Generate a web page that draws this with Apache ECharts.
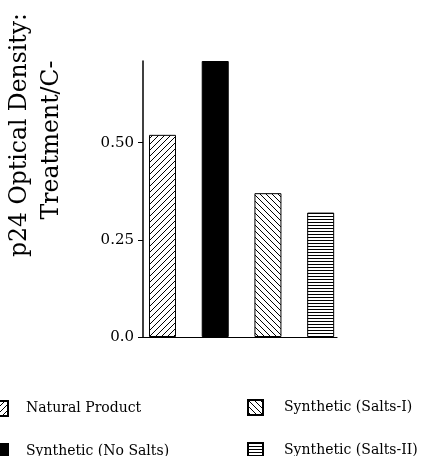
<!DOCTYPE html>
<html>
<head>
	<meta charset="UTF-8">
	<title>p24 Optical Density</title>
	<script src="https://cdn.jsdelivr.net/npm/echarts@6/dist/echarts.min.js"></script>
	<style>
		html, body { margin: 0; padding: 0; background: #fff; }
	</style>
</head>
<body>
<div id="main" style="width: 440px;height:456px;"></div>
<script type="text/javascript">
	// 数据
	var treatments = ['Natural Product', 'Synthetic (No Salts)', 'Synthetic (Salts-I)', 'Synthetic (Salts-II)'];
	var densityValues = [0.52, 0.71, 0.37, 0.32];
	var yTicks = [0, 0.25, 0.5];
	var yTitleLines = ['p24 Optical Density:', 'Treatment/C-'];

	// hatch fill for the bars
	function makePattern(kind) {
		var c = document.createElement('canvas');
		var s = kind === 'hline' ? 3 : 6;
		c.width = s;
		c.height = s;
		var ctx = c.getContext('2d');
		ctx.fillStyle = '#fff';
		ctx.fillRect(0, 0, s, s);
		ctx.strokeStyle = '#000';
		ctx.lineWidth = 1;
		ctx.beginPath();
		if (kind === 'slash') {
			ctx.moveTo(-1, s + 1); ctx.lineTo(s + 1, -1);
			ctx.moveTo(-1, 1); ctx.lineTo(1, -1);
			ctx.moveTo(s - 1, s + 1); ctx.lineTo(s + 1, s - 1);
		} else if (kind === 'back') {
			ctx.moveTo(-1, -1); ctx.lineTo(s + 1, s + 1);
			ctx.moveTo(s - 1, -1); ctx.lineTo(s + 1, 1);
			ctx.moveTo(-1, s - 1); ctx.lineTo(1, s + 1);
		} else {
			ctx.moveTo(0, 0.5); ctx.lineTo(s, 0.5);
		}
		ctx.stroke();
		return { image: c, repeat: 'repeat' };
	}
	var fills = [makePattern('slash'), '#000', makePattern('back'), makePattern('hline')];

	var myChart = echarts.init(document.getElementById('main'));

	var serif = 'DejaVu Serif';
	var series = [];
	for (var i = 0; i < treatments.length; i++) {
		series.push({
			name: treatments[i],
			type: 'bar',
			barWidth: 27,
			barGap: '-100%',
			itemStyle: {
				color: fills[i],
				borderColor: '#000',
				borderWidth: 1
			},
			data: [[i, densityValues[i]]]
		});
	}

	function legendCol(names, left, top, textPad) {
		return {
			data: names,
			orient: 'vertical',
			left: left,
			top: top,
			width: 200,
			height: 80,
			padding: 0,
			itemWidth: 15,
			itemHeight: 15,
			itemGap: 26,
			icon: 'rect',
			selectedMode: false,
			textStyle: {
				fontFamily: serif,
				fontSize: 14,
				color: '#000',
				lineHeight: 15,
				padding: [0, 0, 0, textPad]
			}
		};
	}

	var option = {
		animation: false,
		grid: {
			left: 143,
			right: 103,
			top: 61,
			bottom: 119
		},
		legend: [
			legendCol([treatments[0], treatments[1]], -8, 400, 13),
			legendCol([treatments[2], treatments[3]], 247, 399, 16)
		],
		xAxis: {
			type: 'value',
			min: -0.37,
			max: 3.31,
			axisLine: { show: true, onZero: false, lineStyle: { color: '#000', width: 1.2 } },
			axisTick: { show: false },
			axisLabel: { show: false },
			splitLine: { show: false }
		},
		yAxis: {
			type: 'value',
			min: 0,
			max: 0.71,
			interval: 0.25,
			axisLine: { show: true, onZero: false, lineStyle: { color: '#000', width: 1.5 } },
			axisTick: {
				show: true,
				length: 5,
				customValues: yTicks,
				lineStyle: { color: '#000' }
			},
			axisLabel: {
				margin: 9,
				color: '#000',
				fontFamily: serif,
				fontSize: 15,
				customValues: yTicks,
				formatter: function (v) {
					return v === 0 ? '0.0' : v.toFixed(2);
				}
			},
			splitLine: { show: false }
		},
		graphic: [
			{
				type: 'text',
				x: 20,
				y: 135,
				rotation: Math.PI / 2,
				style: {
					text: yTitleLines[0],
					fontFamily: serif,
					fontSize: 23.5,
					fill: '#000',
					align: 'center',
					verticalAlign: 'middle'
				}
			},
			{
				type: 'text',
				x: 52,
				y: 140,
				rotation: Math.PI / 2,
				style: {
					text: yTitleLines[1],
					fontFamily: serif,
					fontSize: 23.5,
					fill: '#000',
					align: 'center',
					verticalAlign: 'middle'
				}
			}
		],
		series: series
	};

	myChart.setOption(option);
</script>
</body>
</html>
